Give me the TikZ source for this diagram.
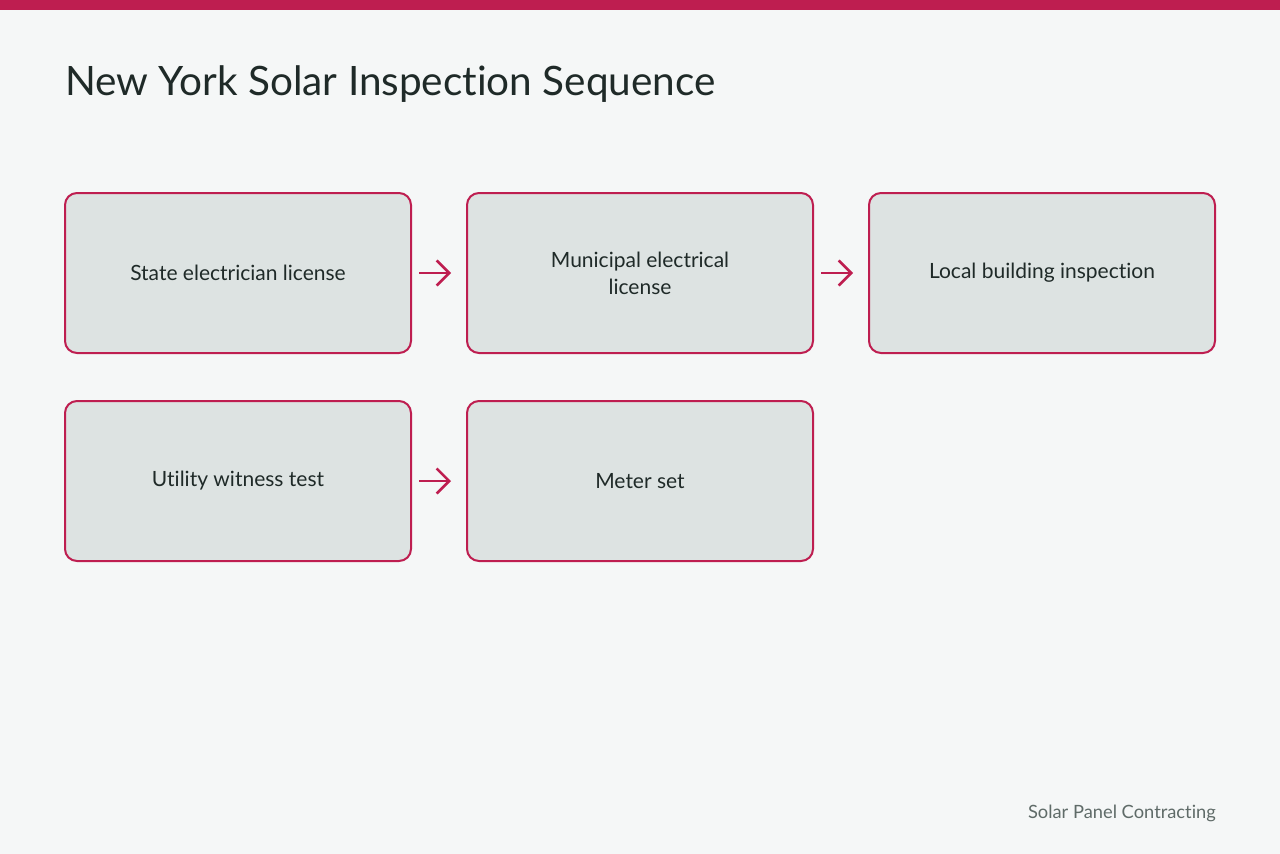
\documentclass[tikz,border=0pt]{standalone}
\usepackage{fontspec}
\setmainfont{Lato}[Ligatures={NoCommon}]
\usetikzlibrary{arrows.meta}
\definecolor{bg}{HTML}{F5F7F7}
\definecolor{accent}{HTML}{BE1E50}
\definecolor{boxfill}{HTML}{DDE3E2}
\definecolor{ink}{HTML}{1F2A28}
\definecolor{muted}{HTML}{5F6B68}
\tikzset{
  stepbox/.style={draw=accent, line width=2pt, fill=boxfill, rounded corners=12pt,
    minimum width=346pt, minimum height=160pt, inner sep=0pt, align=center,
    font=\fontsize{21pt}{27pt}\selectfont, text=ink, anchor=north west},
  flow/.style={draw=accent, line width=2.6pt, -{Straight Barb[length=12.5pt,width=25pt,line width=2.6pt]}}
}
\begin{document}
\begin{tikzpicture}[x=1pt,y=-1pt]
\fill[bg] (0,0) rectangle (1280,854);
\useasboundingbox (0,0) rectangle (1280,854);
\fill[accent] (0,0) rectangle (1280,10);
\node[anchor=base west, inner sep=0pt, text=ink, font=\fontsize{40.5pt}{50pt}\selectfont] (title) at (65,95) {New York Solar Inspection Sequence};
\node[stepbox] (a) at (64,192) {State electrician license};
\node[stepbox] (b) at (466,192) {Municipal electrical\\license};
\node[stepbox] (c) at (868,192) {Local building inspection};
\node[stepbox] (d) at (64,400) {Utility witness test};
\node[stepbox] (e) at (466,400) {Meter set};
\draw[flow] ([xshift=7pt]a.east) -- ([xshift=-15pt]b.west);
\draw[flow] ([xshift=7pt]b.east) -- ([xshift=-15pt]c.west);
\draw[flow] ([xshift=7pt]d.east) -- ([xshift=-15pt]e.west);
\node[anchor=base east, inner sep=0pt, text=muted, font=\fontsize{18.3pt}{22pt}\selectfont] (foot) at (1216,818) {Solar Panel Contracting};
\end{tikzpicture}
\end{document}
